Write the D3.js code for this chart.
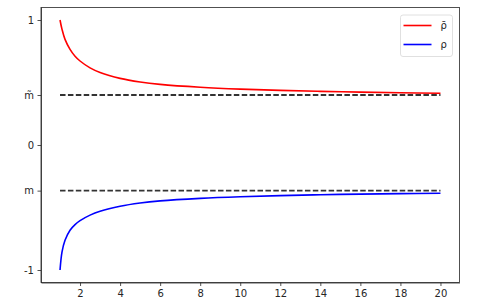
<!DOCTYPE html>
<html>
<head>
    <script src="https://d3js.org/d3.v7.min.js"></script>
    <style>
        body { margin: 0; background: #fff; }
        .axis text { font-family: "DejaVu Sans", sans-serif; font-size: 10px; fill: #262626; }
        .axis path, .axis line { stroke: #262626; stroke-width: 0.8; }
    </style>
</head>
<body>
<script>
    // values
    var nValues = [1, 1.1, 1.25, 1.5, 1.75, 2, 2.5, 3, 4, 5, 6, 8, 10, 12, 14, 16, 18, 20];
    var rhoBar  = [1.0, 0.925, 0.845, 0.765, 0.71, 0.672, 0.617, 0.58, 0.533, 0.504, 0.485, 0.462, 0.447, 0.437, 0.429, 0.423, 0.418, 0.414];
    var rho     = [-1.0, -0.855, -0.762, -0.682, -0.637, -0.605, -0.561, -0.53, -0.49, -0.464, -0.447, -0.427, -0.414, -0.405, -0.398, -0.393, -0.389, -0.386];
    var mTilde = 0.4;
    var mVal = -0.365;
    var xTicks = [2, 4, 6, 8, 10, 12, 14, 16, 18, 20];
    var yTicks = [-1, mVal, 0, mTilde, 1];
    var yTickLabels = ["-1", "m", "0", "m\u0303", "1"];
    var seriesNames = ["\u03C1\u0304", "\u03C1"];
    var seriesColors = ["#ff0000", "#0000ff"];

    var svgWidth = 483, svgHeight = 307;
    var margin = { top: 7.5, right: 23.5, bottom: 24.5, left: 41 },
        width = svgWidth - margin.left - margin.right,
        height = svgHeight - margin.top - margin.bottom;

    var svg = d3.select("body").append("svg")
        .attr("width", svgWidth)
        .attr("height", svgHeight);

    var g = svg.append("g")
        .attr("transform", "translate(" + margin.left + "," + margin.top + ")");

    var x = d3.scaleLinear().domain([0.05, 20.95]).range([0, width]);
    var y = d3.scaleLinear().domain([-1.1, 1.1]).range([height, 0]);

    var line = d3.line()
        .x(function (d) { return x(d[0]); })
        .y(function (d) { return y(d[1]); })
        .curve(d3.curveCatmullRom.alpha(0.5));

    // dashed reference lines
    [mTilde, mVal].forEach(function (v) {
        g.append("line")
            .attr("x1", x(nValues[0]))
            .attr("x2", x(nValues[nValues.length - 1]))
            .attr("y1", y(v))
            .attr("y2", y(v))
            .attr("stroke", "#333")
            .attr("stroke-width", 1.8)
            .attr("stroke-dasharray", "5.5,2.4");
    });

    var series = [rhoBar, rho];
    series.forEach(function (vals, i) {
        g.append("path")
            .datum(nValues.map(function (n, k) { return [n, vals[k]]; }))
            .attr("fill", "none")
            .attr("stroke", seriesColors[i])
            .attr("stroke-width", 1.6)
            .attr("d", line);
    });

    g.append("g")
        .attr("class", "axis")
        .attr("transform", "translate(0," + height + ")")
        .call(d3.axisBottom(x).tickValues(xTicks).tickSize(3.5).tickPadding(3.5).tickSizeOuter(0));

    g.append("g")
        .attr("class", "axis")
        .call(d3.axisLeft(y).tickValues(yTicks).tickSize(3.5).tickPadding(3.5).tickSizeOuter(0)
            .tickFormat(function (d, i) { return yTickLabels[i]; }));

    // frame
    g.append("rect")
        .attr("width", width)
        .attr("height", height)
        .attr("fill", "none")
        .attr("stroke", "#262626")
        .attr("stroke-width", 0.8);

    // legend
    var legend = g.append("g")
        .attr("transform", "translate(" + (width - 59) + ",7.5)");
    legend.append("rect")
        .attr("width", 52)
        .attr("height", 41.5)
        .attr("rx", 2.5)
        .attr("fill", "#fff")
        .attr("fill-opacity", 0.8)
        .attr("stroke", "#d8d8d8")
        .attr("stroke-width", 0.8);
    seriesNames.forEach(function (name, i) {
        var ly = 10.5 + i * 19;
        legend.append("line")
            .attr("x1", 3)
            .attr("x2", 31)
            .attr("y1", ly)
            .attr("y2", ly)
            .attr("stroke", seriesColors[i])
            .attr("stroke-width", 1.6);
        legend.append("text")
            .attr("x", 40)
            .attr("y", ly + 3.5)
            .attr("font-family", "DejaVu Sans, sans-serif")
            .attr("font-size", 10)
            .attr("fill", "#262626")
            .text(name);
    });
</script>
</body>
</html>
